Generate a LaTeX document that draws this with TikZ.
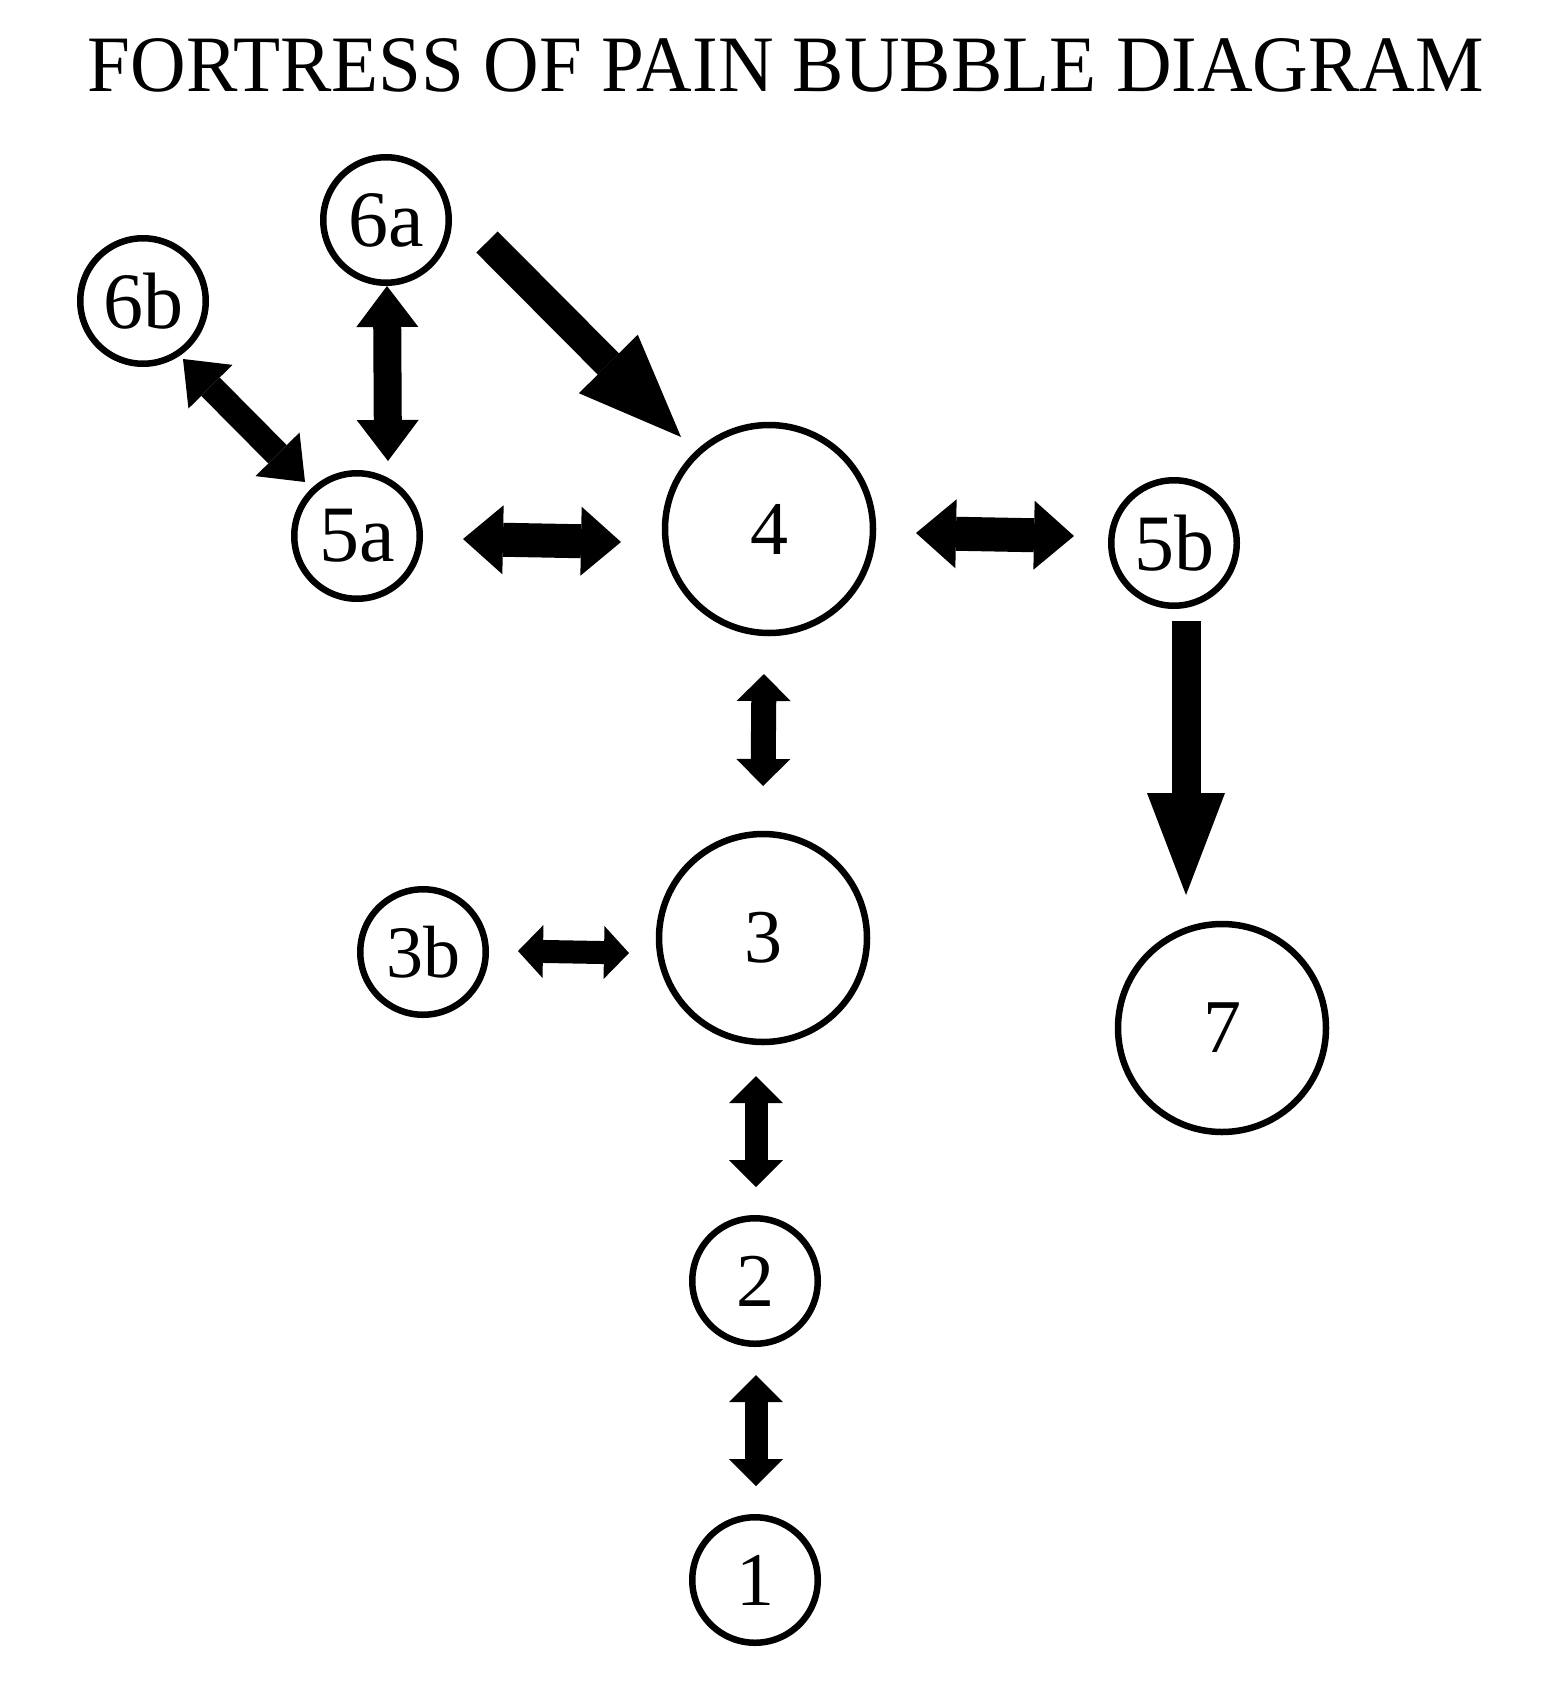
\documentclass[tikz,border=0pt]{standalone}
\usepackage{fontspec}
\setmainfont{Liberation Serif}
\usetikzlibrary{arrows.meta}
\tikzset{
  bubble/.style={circle,draw=black,line width=3.25pt,inner sep=0pt,fill=white},
  smallb/.style={bubble,minimum size=62.75pt,font=\fontsize{40}{40}\selectfont},
  bigb/.style={bubble,minimum size=104pt,font=\fontsize{38}{38}\selectfont},
  dbl/.style n args={3}{line width=#1,line cap=butt,
    arrows={Triangle[length=#2,width=#3,line width=0pt]-Triangle[length=#2,width=#3,line width=0pt]}},
  sgl/.style n args={3}{line width=#1,line cap=butt,
    arrows={-Triangle[length=#2,width=#3,line width=0pt]}}
}
\begin{document}
\begin{tikzpicture}[x=0.5pt,y=-0.5pt]
\useasboundingbox[fill=white] (0,0) rectangle (1548,1686);
% title
\node[anchor=base,inner sep=0pt,font=\fontsize{40}{40}\selectfont] (title) at (786,91)
  {\resizebox{698pt}{\height}{FORTRESS OF PAIN BUBBLE DIAGRAM}};
% bubbles
\node[smallb] (n6a) at (386,220) {6a};
\node[smallb] (n6b) at (143,301) {6b};
\node[smallb] (n5a) at (357,536) {5a};
\node[bigb]   (n4)  at (769,529) {4};
\node[smallb] (n5b) at (1174,543) {5b};
\node[smallb,font=\fontsize{37}{37}\selectfont] (n3b) at (423,952) {3b};
\node[bigb]   (n3)  at (763,938) {3};
\node[bigb]   (n7)  at (1222,1028) {7};
\node[smallb,font=\fontsize{38}{38}\selectfont] (n2) at (755,1281) {2};
\node[smallb,font=\fontsize{38}{38}\selectfont] (n1) at (755,1580) {1};
% connector ends
\coordinate (c6b5a-a) at (183,359);  \coordinate (c6b5a-b) at (305,482);
\coordinate (c6a5a-a) at (387,286);  \coordinate (c6a5a-b) at (388,461);
\coordinate (c5a4-a)  at (463,539);  \coordinate (c5a4-b)  at (621,542);
\coordinate (c45b-a)  at (916,533);  \coordinate (c45b-b)  at (1074,536);
\coordinate (c43-a)   at (764,674);  \coordinate (c43-b)   at (763,786);
\coordinate (c3b3-a)  at (518,951);  \coordinate (c3b3-b)  at (629,953);
\coordinate (c32-a)   at (756,1076); \coordinate (c32-b)   at (756,1187);
\coordinate (c21-a)   at (756,1375); \coordinate (c21-b)   at (756,1486);
\coordinate (c6a4-a)  at (487,242);  \coordinate (c6a4-b)  at (681,437);
\coordinate (c5b7-a)  at (1186,621); \coordinate (c5b7-b)  at (1186,895);
% connectors
\draw[dbl={13pt}{19.5pt}{31pt}]   (c6b5a-a) -- (c6b5a-b);
\draw[dbl={14pt}{20.5pt}{31pt}]   (c6a5a-a) -- (c6a5a-b);
\draw[dbl={17pt}{20pt}{34.5pt}]   (c5a4-a) -- (c5a4-b);
\draw[dbl={17pt}{20pt}{34.5pt}]   (c45b-a) -- (c45b-b);
\draw[dbl={12.5pt}{13.5pt}{27pt}] (c43-a) -- (c43-b);
\draw[dbl={11.5pt}{12.5pt}{26.5pt}] (c3b3-a) -- (c3b3-b);
\draw[dbl={11.5pt}{13.5pt}{27pt}] (c32-a) -- (c32-b);
\draw[dbl={11.5pt}{13.5pt}{27pt}] (c21-a) -- (c21-b);
\draw[sgl={15pt}{51.5pt}{41.5pt}] (c6a4-a) -- (c6a4-b);
\draw[sgl={14.5pt}{51pt}{39pt}]   (c5b7-a) -- (c5b7-b);
\end{tikzpicture}
\end{document}
